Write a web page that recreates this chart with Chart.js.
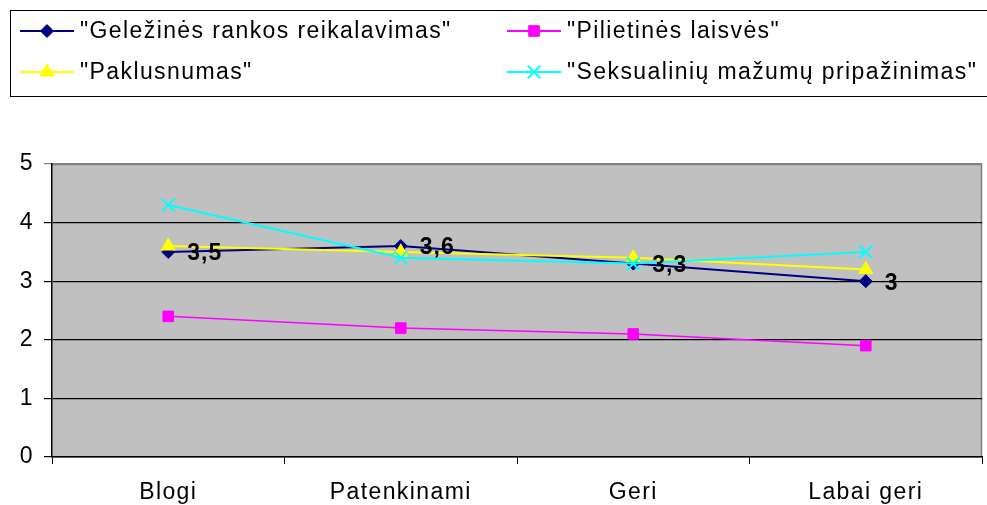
<!DOCTYPE html>
<html>
<head>
<meta charset="utf-8">
<script src="https://cdn.jsdelivr.net/npm/chart.js@4"></script>
<style>
  html, body { margin: 0; padding: 0; background: #fff; overflow: hidden; }
  #wrap { width: 987px; height: 505px; position: relative; }
  canvas { display: block; }
</style>
</head>
<body>
<div id="wrap"><canvas id="chart"></canvas></div>
<script>
// duomenys
const categories = ['Blogi', 'Patenkinami', 'Geri', 'Labai geri'];
const gelezinesRankos = [3.5, 3.6, 3.3, 3.0];
const pilietinesLaisves = [2.4, 2.2, 2.1, 1.9];
const paklusnumas = [3.6, 3.5, 3.4, 3.2];
const seksualiniuMazumu = [4.3, 3.4, 3.3, 3.5];
const yTicks = [0, 1, 2, 3, 4, 5];
const gelezinesLabels = ['3,5', '3,6', '3,3', '3'];

const FONT = '"Liberation Sans", Arial, sans-serif';
const SPACING = '1.4px';

// raidžių tarpai visam tekstui
const letterSpacing = {
    id: 'letterSpacing',
    beforeLayout(chart) { chart.ctx.letterSpacing = SPACING; },
    beforeDraw(chart) { chart.ctx.letterSpacing = SPACING; }
};

// pilkas fonas už braižymo srities
const plotBackground = {
    id: 'plotBackground',
    beforeDraw(chart) {
        const { ctx, chartArea: a } = chart;
        ctx.save();
        ctx.fillStyle = '#c0c0c0';
        ctx.fillRect(a.left, a.top, a.right - a.left, a.bottom - a.top);
        ctx.strokeStyle = '#808080';
        ctx.lineWidth = 1.5;
        ctx.beginPath();
        ctx.moveTo(a.left, a.top + 0.5);
        ctx.lineTo(a.right - 0.5, a.top + 0.5);
        ctx.lineTo(a.right - 0.5, a.bottom);
        ctx.stroke();
        ctx.restore();
    }
};

// reikšmių žymės prie pirmos serijos
const valueLabels = {
    id: 'valueLabels',
    afterDatasetsDraw(chart) {
        const { ctx } = chart;
        const meta = chart.getDatasetMeta(0);
        ctx.save();
        ctx.letterSpacing = '1px';
        ctx.font = 'bold 23px ' + FONT;
        ctx.fillStyle = '#000';
        ctx.textBaseline = 'middle';
        meta.data.forEach((pt, i) => {
            ctx.fillText(gelezinesLabels[i], pt.x + 19, pt.y + 2);
        });
        ctx.restore();
    }
};

// legenda dviem stulpeliais rėmelyje
const boxLegend = {
    id: 'boxLegend',
    afterDraw(chart) {
        const { ctx } = chart;
        ctx.save();
        ctx.strokeStyle = '#000';
        ctx.lineWidth = 1;
        ctx.strokeRect(10.5, 10.5, 990, 86);
        const slots = [
            { ds: 0, x: 20, y: 31 },
            { ds: 1, x: 507, y: 31 },
            { ds: 2, x: 20, y: 72 },
            { ds: 3, x: 507, y: 72 }
        ];
        slots.forEach(s => {
            const ds = chart.data.datasets[s.ds];
            ctx.strokeStyle = ds.borderColor;
            ctx.lineWidth = 2;
            ctx.beginPath();
            ctx.moveTo(s.x, s.y);
            ctx.lineTo(s.x + 54, s.y);
            ctx.stroke();
            ctx.fillStyle = ds.borderColor;
            ctx.lineWidth = ds.pointBorderWidth;
            Chart.helpers.drawPoint(ctx, {
                pointStyle: ds.pointStyle,
                radius: ds.pointRadius,
                rotation: 0,
                borderWidth: ds.pointBorderWidth
            }, s.x + 27, s.y);
            ctx.fillStyle = '#000';
            ctx.letterSpacing = SPACING;
            ctx.font = '23px ' + FONT;
            ctx.textBaseline = 'middle';
            ctx.fillText(ds.label, s.x + 60, s.y + 1);
        });
        ctx.restore();
    }
};

function series(label, data, color, style, radius, order, width) {
    return {
        label, data, order,
        borderColor: color,
        backgroundColor: color,
        pointBackgroundColor: color,
        pointBorderColor: color,
        borderWidth: width,
        pointStyle: style,
        pointRadius: radius,
        pointHoverRadius: radius,
        pointBorderWidth: style === 'crossRot' ? 2 : 1,
        tension: 0,
        fill: false
    };
}

const ctx = document.getElementById('chart').getContext('2d');
new Chart(ctx, {
    type: 'line',
    data: {
        labels: categories,
        datasets: [
            series('"Geležinės rankos reikalavimas"', gelezinesRankos, '#000080', 'rectRot', 6.5, 4, 2),
            series('"Pilietinės laisvės"', pilietinesLaisves, '#ff00ff', 'rect', 7.5, 3, 1.5),
            series('"Paklusnumas"', paklusnumas, '#ffff00', 'triangle', 8, 2, 2),
            series('"Seksualinių mažumų pripažinimas"', seksualiniuMazumu, '#00ffff', 'crossRot', 9, 1, 2)
        ]
    },
    options: {
        responsive: true,
        maintainAspectRatio: false,
        animation: false,
        layout: {
            autoPadding: false,
            padding: { top: 164, right: 5, left: 0, bottom: 0 }
        },
        plugins: {
            legend: { display: false },
            tooltip: { enabled: false }
        },
        scales: {
            x: {
                offset: true,
                afterFit(scale) {
                    scale.height = 48;
                    scale.paddingLeft = 0;
                    scale.paddingRight = 0;
                },
                grid: {
                    offset: true,
                    drawOnChartArea: false,
                    color: '#000',
                    tickLength: 7
                },
                border: { color: '#000', width: 1.5 },
                ticks: {
                    color: '#000',
                    font: { family: FONT, size: 23 },
                    padding: 15,
                    maxRotation: 0
                }
            },
            y: {
                min: 0,
                max: 5,
                afterFit(scale) {
                    scale.width = 52;
                    scale.paddingTop = 0;
                    scale.paddingBottom = 0;
                },
                afterBuildTicks(scale) {
                    scale.ticks = yTicks.map(v => ({ value: v }));
                },
                grid: {
                    color: c => (c.tick && c.tick.value === 5) ? '#808080' : '#000',
                    lineWidth: 1.2,
                    tickLength: 8
                },
                border: { color: '#000', width: 1.5 },
                ticks: {
                    color: '#000',
                    font: { family: FONT, size: 23 },
                    padding: 10
                }
            }
        }
    },
    plugins: [letterSpacing, plotBackground, valueLabels, boxLegend]
});
</script>
</body>
</html>
